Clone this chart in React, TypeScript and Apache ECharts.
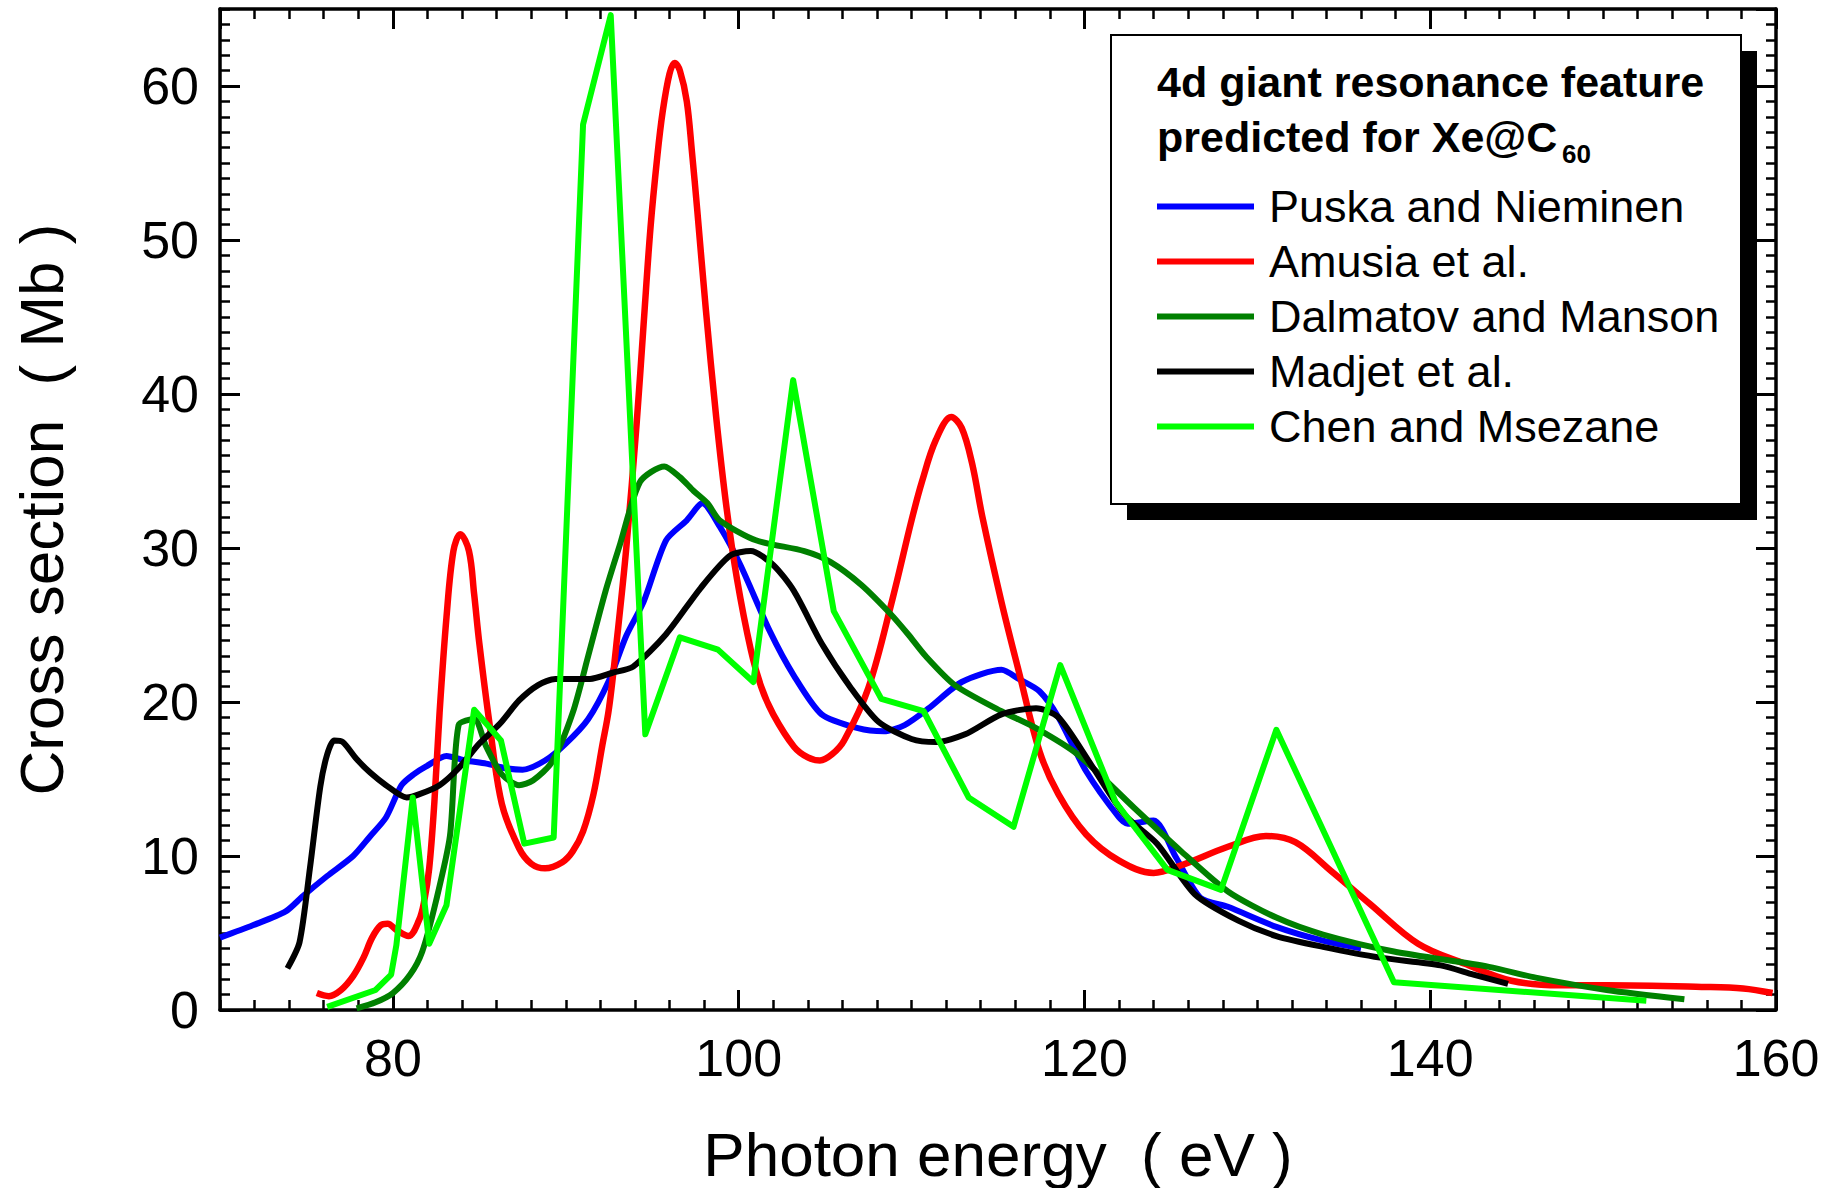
import React, { useEffect, useRef } from 'react';
import * as echarts from 'echarts';

// ---------- data ----------
const seriesNames = [
  'Puska and Nieminen',
  'Amusia et al.',
  'Dalmatov and Manson',
  'Madjet et al.',
  'Chen and Msezane',
];
const seriesColors = ['#0000ff', '#ff0000', '#008000', '#000000', '#00ff00'];

const puska: [number, number][] = [
  [70, 4.7], [71.9, 5.5], [73.8, 6.4], [74.8, 7.4], [76.2, 8.7], [77.7, 10.0], [78.7, 11.3],
  [79.6, 12.5], [80.5, 14.6], [81.2, 15.3], [81.9, 15.8], [83.1, 16.5], [84.2, 16.2], [85.4, 16.0],
  [86.5, 15.7], [87.5, 15.6], [88.8, 16.2], [90.0, 17.3], [91.3, 18.9], [92.5, 21.4], [93.5, 24.3],
  [94.5, 26.5], [95.8, 30.5], [97.0, 31.8], [97.9, 32.9], [98.9, 31.4], [100.1, 28.9], [101.8, 24.6],
  [103.2, 21.7], [104.8, 19.2], [106.9, 18.3], [108.4, 18.1], [109.6, 18.5], [111.0, 19.6],
  [112.9, 21.3], [115.2, 22.1], [116.2, 21.5], [117.4, 20.7], [118.5, 19.0], [120.1, 15.5],
  [122.0, 12.5], [122.5, 12.1], [124.0, 12.3], [125.3, 9.9], [126.7, 7.3], [128.3, 6.7],
  [131.1, 5.4], [133.8, 4.5], [136.0, 4.0],
];

const amusia: [number, number][] = [
  [75.6, 1.1], [76.3, 0.9], [77.0, 1.3], [77.7, 2.2], [78.3, 3.4], [78.8, 4.7], [79.3, 5.5],
  [79.7, 5.6], [80.2, 5.2], [80.9, 4.8], [81.5, 5.8], [81.8, 7.0], [82.1, 9.2], [82.4, 13.5],
  [82.7, 19.3], [83.1, 25.5], [83.5, 29.8], [83.9, 30.9], [84.4, 29.8], [84.7, 27.0], [85.0, 23.8],
  [85.6, 18.5], [86.3, 13.4], [87.3, 10.5], [88.0, 9.5], [88.8, 9.2], [89.8, 9.6], [90.4, 10.3],
  [91.0, 11.6], [91.6, 14.0], [92.1, 17.1], [92.5, 19.6], [93.0, 24.5], [93.5, 30.0], [94.1, 38.1],
  [94.5, 44.5], [94.9, 50.8], [95.3, 55.5], [95.6, 58.3], [96.0, 60.8], [96.3, 61.5], [96.6, 61.0],
  [97.0, 59.0], [97.3, 55.7], [97.6, 52.0], [98.1, 45.5], [98.7, 38.5], [99.3, 32.6], [99.9, 28.0],
  [100.7, 23.4], [101.3, 21.0], [102.0, 19.2], [103.2, 17.1], [104.0, 16.4], [104.7, 16.2],
  [105.4, 16.6], [106.1, 17.5], [107.5, 20.9], [108.9, 26.7], [110.0, 31.8], [110.6, 34.3],
  [111.4, 37.0], [112.3, 38.5], [112.9, 37.8], [113.5, 35.5], [114.1, 32.0], [115.2, 26.5],
  [116.2, 22.0], [117.4, 16.8], [118.5, 14.0], [120.1, 11.4], [122.0, 9.7], [124.0, 8.9],
  [125.6, 9.4], [128.3, 10.6], [130.5, 11.3], [132.2, 10.9], [134.3, 9.0], [136.5, 6.9],
  [139.3, 4.3], [142.0, 3.0], [144.7, 1.9], [147.5, 1.6], [150.2, 1.6], [155.7, 1.5],
  [158.1, 1.4], [159.8, 1.1],
];

const dalmatov: [number, number][] = [
  [77.9, 0.1], [79.0, 0.5], [80.0, 1.1], [81.0, 2.3], [81.7, 3.8], [82.5, 7.1], [83.3, 11.3],
  [83.8, 18.5], [84.7, 18.9], [85.4, 17.1], [86.3, 15.3], [87.3, 14.6], [88.1, 14.9], [89.2, 16.1],
  [90.4, 19.3], [91.3, 23.0], [92.3, 27.2], [93.1, 30.1], [94.3, 34.3], [95.7, 35.3], [96.6, 34.6],
  [97.4, 33.7], [98.2, 32.9], [98.9, 31.8], [101.0, 30.5], [103.8, 29.8], [105.3, 29.1],
  [107.1, 27.6], [108.8, 25.7], [109.8, 24.4], [110.8, 23.0], [112.5, 21.1], [115.2, 19.4],
  [117.2, 18.3], [119.6, 16.6], [122.9, 13.1], [125.6, 10.3], [128.3, 7.7], [131.1, 6.0],
  [133.8, 4.9], [137.9, 3.8], [143.4, 2.8], [146.1, 2.1], [150.2, 1.3], [154.7, 0.7],
];

const madjet: [number, number][] = [
  [73.9, 2.7], [74.6, 4.4], [75.2, 9.2], [75.8, 14.5], [76.2, 16.6], [76.6, 17.5], [77.1, 17.4],
  [77.9, 16.3], [78.7, 15.4], [79.6, 14.6], [80.8, 13.8], [81.5, 14.0], [82.7, 14.6], [83.8, 15.7],
  [85.0, 17.3], [86.2, 18.6], [87.3, 20.1], [88.4, 21.1], [89.4, 21.5], [91.4, 21.5], [92.7, 21.9],
  [93.9, 22.3], [95.8, 24.4], [97.8, 27.4], [99.5, 29.5], [100.7, 29.8], [102.0, 28.9],
  [103.2, 27.2], [104.8, 23.8], [106.5, 20.9], [108.1, 18.7], [110.0, 17.6], [111.4, 17.4],
  [113.1, 17.9], [115.2, 19.2], [117.2, 19.6], [118.5, 19.0], [120.4, 15.9], [122.3, 12.7],
  [124.2, 10.8], [126.4, 7.5], [128.9, 5.8], [131.1, 4.8], [133.8, 4.1], [137.1, 3.4],
  [140.6, 2.9], [142.5, 2.3], [144.5, 1.7],
];

const chen: [number, number][] = [
  [76.2, 0.2], [79.0, 1.3], [79.9, 2.3], [80.2, 4.2], [81.15, 13.8], [82.1, 4.3], [83.1, 6.8],
  [84.7, 19.5], [86.25, 17.5], [87.6, 10.8], [89.3, 11.2], [91.0, 57.5], [92.6, 64.6],
  [94.6, 17.9], [96.6, 24.2], [98.8, 23.4], [100.85, 21.3], [103.15, 40.9], [105.5, 25.9],
  [108.25, 20.2], [110.7, 19.4], [113.3, 13.8], [115.9, 11.9], [118.6, 22.4], [121.8, 13.5],
  [124.8, 9.1], [127.9, 7.8], [131.1, 18.2], [137.9, 1.8], [152.5, 0.6],
];

const seriesData = [puska, amusia, dalmatov, madjet, chen];
const seriesSmooth = [0.25, 0.35, 0.25, 0.25, false];

const xRange = [70, 160];
const yRange = [0, 65];
const xMinorStep = 2;
const yMajorStep = 10;
const yMinorStep = 1;

const xTitle = 'Photon energy  ( eV )';
const yTitle = 'Cross section  ( Mb )';
const legendTitle1 = '4d giant resonance feature';
const legendTitle2 = 'predicted for Xe@C';
const legendTitleSub = '60';

const FONT = '"Liberation Sans", Arial, Helvetica, sans-serif';

export default function App() {
  const ref = useRef<HTMLDivElement>(null);

  useEffect(() => {
    if (!ref.current) return;
    const chart = echarts.init(ref.current, undefined, { renderer: 'svg' });

    const black = '#000000';
    const majorTick = { show: true, inside: true, length: 20, lineStyle: { color: black, width: 3 } };
    const minorTick = { show: true, inside: true, length: 10, lineStyle: { color: black, width: 2.5 } };
    const axisLineOn = { show: true, onZero: false, lineStyle: { color: black, width: 3.5 } };
    const axisLineOff = { show: false, onZero: false };
    const labelBase = { color: black, fontSize: 52, fontFamily: FONT };

    const xAxes = [
      {
        type: 'value', min: xRange[0], max: xRange[1], splitNumber: 5, position: 'bottom',
        axisLine: axisLineOn, axisTick: majorTick, splitLine: { show: false },
        axisLabel: {
          ...labelBase, margin: 22, showMinLabel: false,
          formatter: (v: number) => (v === xRange[0] ? '' : String(v)),
        },
        name: xTitle, nameLocation: 'middle', nameGap: 113,
        nameTextStyle: { color: black, fontSize: 62, fontFamily: FONT },
      },
      {
        type: 'value', min: xRange[0], max: xRange[1], interval: xMinorStep, position: 'bottom',
        axisLine: axisLineOff, axisTick: minorTick, axisLabel: { show: false }, splitLine: { show: false },
      },
      {
        type: 'value', min: xRange[0], max: xRange[1], splitNumber: 5, position: 'top',
        axisLine: axisLineOn, axisTick: majorTick, axisLabel: { show: false }, splitLine: { show: false },
      },
      {
        type: 'value', min: xRange[0], max: xRange[1], interval: xMinorStep, position: 'top',
        axisLine: axisLineOff, axisTick: minorTick, axisLabel: { show: false }, splitLine: { show: false },
      },
    ];

    const yAxes = [
      {
        type: 'value', min: yRange[0], max: yRange[1], interval: yMajorStep, position: 'left',
        axisLine: axisLineOn, axisTick: majorTick, splitLine: { show: false },
        axisLabel: {
          ...labelBase, margin: 21, showMaxLabel: false,
          formatter: (v: number) => (v === yRange[1] ? '' : String(v)),
        },
        name: yTitle, nameLocation: 'middle', nameGap: 148,
        nameTextStyle: { color: black, fontSize: 62, fontFamily: FONT },
      },
      {
        type: 'value', min: yRange[0], max: yRange[1], interval: yMinorStep, position: 'left',
        axisLine: axisLineOff, axisTick: minorTick, axisLabel: { show: false }, splitLine: { show: false },
      },
      {
        type: 'value', min: yRange[0], max: yRange[1], interval: yMajorStep, position: 'right',
        axisLine: axisLineOn, axisTick: majorTick, axisLabel: { show: false }, splitLine: { show: false },
      },
      {
        type: 'value', min: yRange[0], max: yRange[1], interval: yMinorStep, position: 'right',
        axisLine: axisLineOff, axisTick: minorTick, axisLabel: { show: false }, splitLine: { show: false },
      },
    ];

    const series = seriesNames.map((name, i) => ({
      type: 'line',
      name,
      data: seriesData[i],
      xAxisIndex: 0,
      yAxisIndex: 0,
      symbol: 'none',
      showSymbol: false,
      smooth: seriesSmooth[i],
      color: seriesColors[i],
      lineStyle: { color: seriesColors[i], width: i === 1 ? 6.5 : 6, join: 'round' },
      z: 2 + i,
      silent: true,
    }));

    const option: any = {
      animation: false,
      backgroundColor: '#ffffff',
      grid: { left: 220, right: 61, top: 9, bottom: 178, containLabel: false, outerBoundsMode: 'none' },
      xAxis: xAxes,
      yAxis: yAxes,
      series,
      legend: {
        show: true,
        orient: 'vertical',
        left: 1157,
        top: 184,
        itemWidth: 97,
        itemHeight: 6,
        itemGap: 10,
        icon: 'rect',
        selectedMode: false,
        z: 30,
        padding: 0,
        data: seriesNames,
        textStyle: { color: black, fontSize: 45, fontFamily: FONT, lineHeight: 44, padding: [0, 0, 0, 10] },
      },
      graphic: [
        { type: 'rect', z: 20, silent: true, shape: { x: 1127, y: 51, width: 630, height: 469 }, style: { fill: black } },
        { type: 'rect', z: 21, silent: true, shape: { x: 1111, y: 35, width: 630, height: 469 }, style: { fill: '#ffffff', stroke: black, lineWidth: 2 } },
        { type: 'text', z: 22, silent: true, x: 1157, y: 82, style: { text: legendTitle1, fill: black, fontSize: 43, fontWeight: 'bold', fontFamily: FONT, verticalAlign: 'middle', align: 'left' } },
        { type: 'text', z: 22, silent: true, x: 1157, y: 137, style: { text: legendTitle2, fill: black, fontSize: 43, fontWeight: 'bold', fontFamily: FONT, verticalAlign: 'middle', align: 'left' } },
        { type: 'text', z: 22, silent: true, x: 1562, y: 154, style: { text: legendTitleSub, fill: black, fontSize: 26, fontWeight: 'bold', fontFamily: FONT, verticalAlign: 'middle', align: 'left' } },
      ],
    };

    chart.setOption(option);
    return () => chart.dispose();
  }, []);

  return (
    <div
      ref={ref}
      style={{ position: 'fixed', left: 0, top: 0, width: 1837, height: 1188, background: '#fff' }}
    />
  );
}
